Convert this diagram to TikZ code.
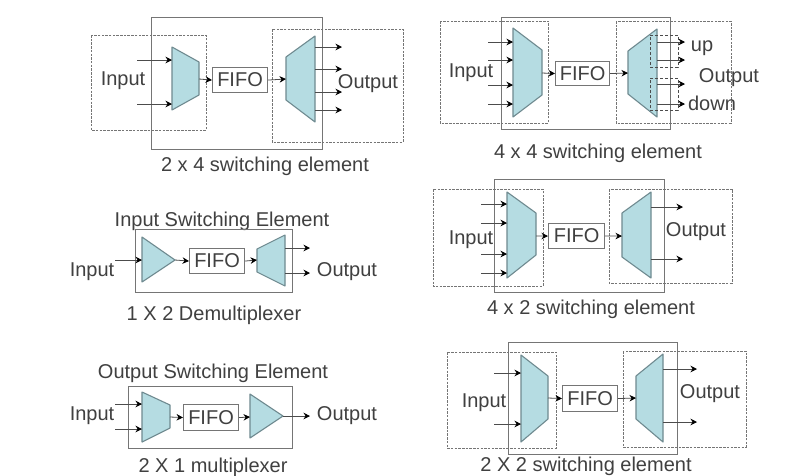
\documentclass[tikz,border=0pt]{standalone}
\usepackage{fontspec}
\setmainfont{Liberation Sans}
\usetikzlibrary{arrows.meta}
\definecolor{txt}{HTML}{404040}
\definecolor{muxfill}{HTML}{B5DCE2}
\definecolor{muxline}{HTML}{6F8A90}
\definecolor{boxline}{HTML}{757575}
\tikzset{
  wire/.style={draw=black!70,line width=0.8pt,-{Stealth[length=6.5pt,width=6.5pt,black]}},
  solidbox/.style={draw=boxline,line width=1pt},
  dashbox/.style={draw=boxline,line width=0.9pt,dash pattern=on 2.5pt off 1.2pt},
  dashlink/.style={draw=black!70,line width=1pt,dash pattern=on 3pt off 2pt},
  mux/.style={fill=muxfill,draw=muxline,line width=1.1pt,line join=round},
  fifobox/.style={draw=boxline,line width=1.1pt,fill=white,inner sep=0pt,anchor=north west,font=\fontsize{20}{20}\selectfont,text=txt,align=center},
  lab/.style={font=\fontsize{20}{20}\selectfont,text=txt,inner sep=0pt,yshift=-2pt},
}
\begin{document}
\begin{tikzpicture}[x=1pt,y=-1pt]
\useasboundingbox (0,0) rectangle (811,475);
\fill[white] (0,0) rectangle (811,475);

% ---------- 2 x 4
\draw[dashbox] (91,35) rectangle (206,130);
\draw[dashbox] (272,29) rectangle (403,142);
\draw[solidbox] (151,17) rectangle (322,149);
\draw[mux] (172,47) -- (199,62) -- (199,95) -- (172,110) -- cycle;
\draw[mux] (315,36) -- (286,57) -- (286,100) -- (315,122) -- cycle;
\node[fifobox,minimum width=55pt,minimum height=25pt] (fa) at (212,67) {FIFO};
\coordinate (fam) at (199,79); \coordinate (fao) at (286,79);
\draw[wire] (fam) -- (fa.west);
\draw[wire] (fa.east) -- (fao);
\foreach \i/\y in {1/60,2/104}{\coordinate (ai\i) at (137,\y); \coordinate (aj\i) at (172,\y); \draw[wire] (ai\i) -- (aj\i);}
\foreach \i/\y in {1/47,2/69,3/92,4/110}{\coordinate (ak\i) at (315,\y); \coordinate (al\i) at (342,\y); \draw[wire] (ak\i) -- (al\i);}
\node[lab] (ain) at (123,79) {Input};
\node[lab] (aout) at (368,82) {Output};
\node[lab] (acap) at (265,164) {2 x 4 switching element};

% ---------- 4 x 4
\draw[dashbox] (440,21) rectangle (548,123);
\draw[dashbox] (616,21) rectangle (731,123);
\draw[solidbox] (501,17) rectangle (670,129);
\draw[mux] (513,28) -- (542,50) -- (542,95) -- (513,117) -- cycle;
\draw[mux] (657,29) -- (628,51) -- (628,94) -- (657,117) -- cycle;
\node[fifobox,minimum width=54pt,minimum height=24pt] (fb) at (555,61) {FIFO};
\coordinate (fbm) at (542,73); \coordinate (fbo) at (628,73);
\draw[wire] (fbm) -- (fb.west);
\draw[wire] (fb.east) -- (fbo);
\foreach \i/\y in {1/42,2/60,3/85,4/104}{\coordinate (bi\i) at (488,\y); \coordinate (bj\i) at (513,\y); \draw[wire] (bi\i) -- (bj\i);}
\foreach \i/\y in {1/42,2/60,3/84,4/104}{\coordinate (bk\i) at (657,\y); \coordinate (bl\i) at (685,\y); \draw[wire] (bk\i) -- (bl\i);}
\draw[dashlink] (650,35) -- (678,35) -- (678,67) -- (650,67) -- (650,35);
\draw[dashlink] (650,78) -- (678,78) -- (678,110) -- (650,110) -- (650,78);
\node[lab] (bin) at (471,71) {Input};
\node[lab] (bup) at (702,46) {up};
\node[lab] (bout) at (729,76) {Output};
\node[lab] (bdn) at (712,101) {down};
\node[lab] (bcap) at (598,151) {4 x 4 switching element};

% ---------- 4 x 2
\draw[dashbox] (433,189) rectangle (543,286);
\draw[dashbox] (609,189) rectangle (732,283);
\draw[solidbox] (494,179) rectangle (664,292);
\draw[mux] (507,192) -- (536,213) -- (536,255) -- (507,278) -- cycle;
\draw[mux] (651,192) -- (622,213) -- (622,257) -- (651,278) -- cycle;
\node[fifobox,minimum width=56pt,minimum height=25pt] (fc) at (548,223) {FIFO};
\coordinate (fcm) at (536,236); \coordinate (fco) at (622,236);
\draw[wire] (fcm) -- (fc.west);
\draw[wire] (fc.east) -- (fco);
\foreach \i/\y in {1/204,2/223,3/254,4/273}{\coordinate (ci\i) at (481,\y); \coordinate (cj\i) at (507,\y); \draw[wire] (ci\i) -- (cj\i);}
\foreach \i/\y in {1/207,2/259}{\coordinate (ck\i) at (651,\y); \coordinate (cl\i) at (683,\y); \draw[wire] (ck\i) -- (cl\i);}
\node[lab] (cin) at (471,238) {Input};
\node[lab] (cout) at (696,230) {Output};
\node[lab] (ccap) at (591,307) {4 x 2 switching element};

% ---------- 2 X 2
\draw[dashbox] (447,352) rectangle (556,448);
\draw[dashbox] (623,351) rectangle (746,447);
\draw[solidbox] (508,342) rectangle (677,454);
\draw[mux] (521,355) -- (548,376) -- (548,419) -- (521,442) -- cycle;
\draw[mux] (663,354) -- (636,376) -- (636,419) -- (663,442) -- cycle;
\node[fifobox,minimum width=55pt,minimum height=26pt] (fd) at (562,385) {FIFO};
\coordinate (fdm) at (548,398); \coordinate (fdo) at (636,398);
\draw[wire] (fdm) -- (fd.west);
\draw[wire] (fd.east) -- (fdo);
\foreach \i/\y in {1/373,2/424}{\coordinate (di\i) at (494,\y); \coordinate (dj\i) at (521,\y); \draw[wire] (di\i) -- (dj\i);}
\foreach \i/\y in {1/369,2/422}{\coordinate (dk\i) at (663,\y); \coordinate (dl\i) at (697,\y); \draw[wire] (dk\i) -- (dl\i);}
\node[lab] (din) at (484,401) {Input};
\node[lab] (dout) at (710,392) {Output};
\node[lab] (dcap) at (586,464) {2 X 2 switching element};

% ---------- 1 X 2 demux
\node[lab] (etitle) at (222,219) {Input Switching Element};
\draw[solidbox] (135,229) rectangle (292,292);
\draw[mux] (142,237) -- (175,260) -- (142,282) -- cycle;
\draw[mux] (285,235) -- (257,249) -- (257,272) -- (285,286) -- cycle;
\node[fifobox,minimum width=55pt,minimum height=25pt] (fe) at (189,248) {FIFO};
\coordinate (em) at (175,260); \coordinate (eo) at (257,260);
\draw[wire] (em) -- (fe.west);
\draw[wire] (fe.east) -- (eo);
\coordinate (ei) at (115,260); \coordinate (ej) at (142,260);
\draw[wire] (ei) -- (ej);
\foreach \i/\y in {1/248,2/273}{\coordinate (ek\i) at (285,\y); \coordinate (el\i) at (310,\y); \draw[wire] (ek\i) -- (el\i);}
\node[lab] (ein) at (92,270) {Input};
\node[lab] (eout) at (347,270) {Output};
\node[lab] (ecap) at (214,313) {1 X 2 Demultiplexer};

% ---------- 2 X 1 mux
\node[lab] (gtitle) at (213,371) {Output Switching Element};
\draw[solidbox] (128,386) rectangle (292,448);
\draw[mux] (142,392) -- (170,405) -- (170,428) -- (142,442) -- cycle;
\draw[mux] (250,394) -- (283,416) -- (250,438) -- cycle;
\node[fifobox,minimum width=55pt,minimum height=26pt] (fg) at (183,404) {FIFO};
\coordinate (gm) at (170,417); \coordinate (go) at (250,417);
\draw[wire] (gm) -- (fg.west);
\draw[wire] (fg.east) -- (go);
\foreach \i/\y in {1/404,2/429}{\coordinate (gi\i) at (115,\y); \coordinate (gj\i) at (142,\y); \draw[wire] (gi\i) -- (gj\i);}
\coordinate (gk) at (283,416); \coordinate (gl) at (310,416);
\draw[wire] (gk) -- (gl);
\node[lab] (gin) at (92,414) {Input};
\node[lab] (gout) at (347,414) {Output};
\node[lab] (gcap) at (213,465) {2 X 1 multiplexer};
\end{tikzpicture}
\end{document}
